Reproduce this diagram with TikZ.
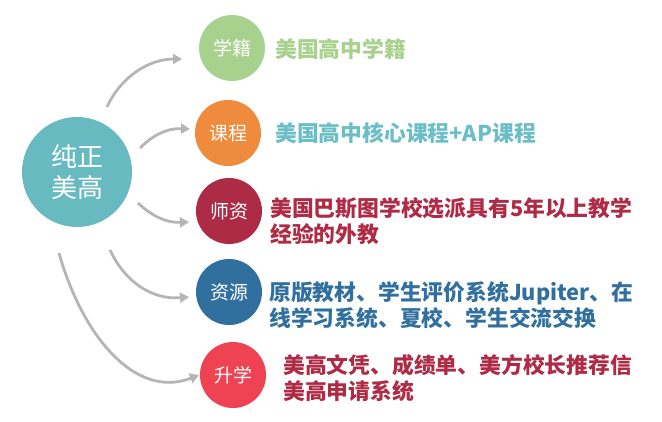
\documentclass[tikz,border=0pt]{standalone}
\usepackage{fontspec}
\newfontfamily\cjk{Noto Sans CJK SC}
\usetikzlibrary{arrows.meta}
\definecolor{cteal}{HTML}{67BAC0}
\definecolor{cgreen}{HTML}{A9D18E}
\definecolor{corange}{HTML}{EF8B3C}
\definecolor{ccrimson}{HTML}{AE2B45}
\definecolor{cblue}{HTML}{31709E}
\definecolor{cred}{HTML}{EF4353}
\definecolor{ctealtxt}{HTML}{6BBEC5}
\definecolor{carrow}{HTML}{B5B5B5}
\tikzset{
  bubble/.style={circle,minimum size=66pt,inner sep=0pt,text=white,font=\cjk\fontsize{19}{22}\selectfont},
  info/.style={anchor=west,inner sep=0pt,align=left,font=\cjk\bfseries\fontsize{21.8}{26}\selectfont},
  link/.style={draw=carrow,line width=2.8pt,-{Triangle[length=9pt,width=10pt]}}
}
\begin{document}
\begin{tikzpicture}[x=1pt,y=-1pt]
\useasboundingbox (0,0) rectangle (662,421);
\node[circle,fill=cteal,minimum size=110pt,inner sep=0pt,text=white,align=center,
  font=\cjk\fontsize{26}{31}\selectfont] (c) at (77,172) {纯正\\美高};
\node[bubble,fill=cgreen] (b1) at (232,48) {学籍};
\node[bubble,fill=corange] (b2) at (228,133) {课程};
\node[bubble,fill=ccrimson] (b3) at (229,211) {师资};
\node[bubble,fill=cblue] (b4) at (229,292) {资源};
\node[bubble,fill=cred] (b5) at (233,375) {升学};
\node[info,text=cgreen] (t1) at (275,49) {美国高中学籍};
\node[info,text=ctealtxt] (t2) at (275,133) {美国高中核心课程+AP课程};
\node[info,text=ccrimson] (t3) at (270,221) {美国巴斯图学校选派具有5年以上教学\\经验的外教};
\node[info,text=cblue] (t4) at (269,305) {原版教材、学生评价系统Jupiter、在\\线学习系统、夏校、学生交流交换};
\node[info,text=ccrimson] (t5) at (283,378) {美高文凭、成绩单、美方校长推荐信\\美高申请系统};
\coordinate (s1) at (107,107); \coordinate (e1) at (182,59);
\coordinate (s2) at (140,148); \coordinate (e2) at (190,129);
\coordinate (s3) at (138,203); \coordinate (e3) at (189,222);
\coordinate (s4) at (110,250); \coordinate (e4) at (189,297);
\coordinate (s5) at (59,253); \coordinate (e5) at (199,375);
\draw[link] (s1) .. controls (120,78) and (148,59) .. (e1);
\draw[link] (s2) .. controls (152,136) and (166,128) .. (e2);
\draw[link] (s3) .. controls (152,216) and (166,223) .. (e3);
\draw[link] (s4) .. controls (125,282) and (152,300) .. (e4);
\draw[link] (s5) .. controls (82,335) and (135,400) .. (e5);
\end{tikzpicture}
\end{document}
